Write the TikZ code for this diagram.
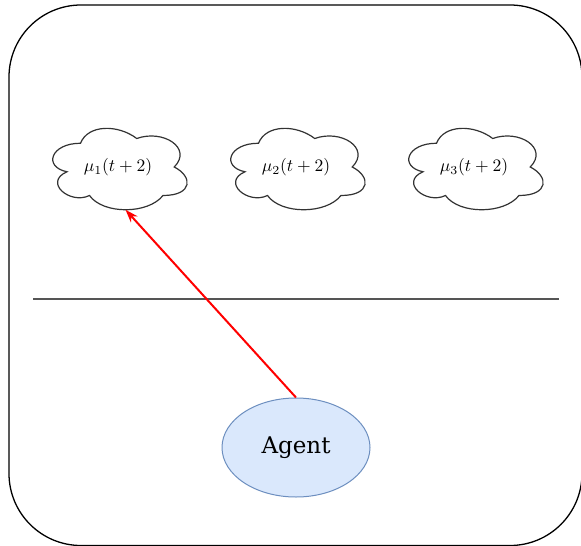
\documentclass[tikz,border=0pt]{standalone}
\usepackage{fontspec}
\usepackage{graphicx}
\newfontfamily\labelfont{DejaVu Serif}
\usetikzlibrary{shapes.geometric,arrows.meta}
\definecolor{agentfill}{HTML}{DAE8FC}
\definecolor{agentdraw}{HTML}{6C8EBF}
\definecolor{cloudline}{HTML}{333333}
\definecolor{divider}{HTML}{555555}
\newcommand{\belieftext}[1]{\scalebox{1.75}{$#1$}}
\tikzset{
  beliefbox/.style={rectangle, minimum width=150pt, minimum height=95pt,
    inner sep=0pt, outer sep=0pt},
  cloudstroke/.style={draw=cloudline, line width=1.2pt},
  agentnode/.style={ellipse, draw=agentdraw, fill=agentfill, line width=1pt,
    minimum width=148pt, minimum height=99pt, inner sep=0pt,
    font=\labelfont\fontsize{23}{27}\selectfont},
  frame/.style={draw=black, line width=1.3pt, rounded corners=72pt},
  link/.style={draw=red, line width=2pt, -{Stealth[length=13pt,width=9pt]}}
}
% a belief cloud: a text node with a cloud outline drawn in its box
\newcommand{\beliefcloud}[4]{%
  \node[beliefbox] (#1) at (#2,#3) {\belieftext{#4}};
  \begin{scope}[shift={(#1.north west)}, x=150pt, y=-95pt]
    \draw[cloudstroke] (0.25,0.25)
      .. controls (0.05,0.25) and (0,0.5) .. (0.16,0.55)
      .. controls (0,0.66) and (0.18,0.9) .. (0.31,0.8)
      .. controls (0.4,1) and (0.7,1) .. (0.8,0.8)
      .. controls (1,0.8) and (1,0.6) .. (0.875,0.5)
      .. controls (1,0.3) and (0.8,0.1) .. (0.625,0.2)
      .. controls (0.5,0.05) and (0.3,0.05) .. (0.25,0.25) -- cycle;
    \coordinate (#1-bottom) at (0.55,0.95);
  \end{scope}}
\begin{document}
\begin{tikzpicture}[x=1pt,y=-1pt]
  \useasboundingbox (0,0) rectangle (581,546);
  \begin{scope}
    \clip (0,0) rectangle (581,546);
    \draw[frame] (9,5) rectangle (582,545.5);
  \end{scope}
  % belief clouds
  \beliefcloud{c1}{118}{167}{\mu_1(t+2)}
  \beliefcloud{c2}{296}{167}{\mu_2(t+2)}
  \beliefcloud{c3}{474}{167}{\mu_3(t+2)}
  % divider
  \coordinate (dl) at (33,299);
  \coordinate (dr) at (559,299);
  \draw[divider, line width=1.2pt] (dl) -- (dr);
  % agent
  \node[agentnode] (agent) at (296,447.5) {Agent};
  \draw[link] (agent.north) -- (c1-bottom);
\end{tikzpicture}
\end{document}
